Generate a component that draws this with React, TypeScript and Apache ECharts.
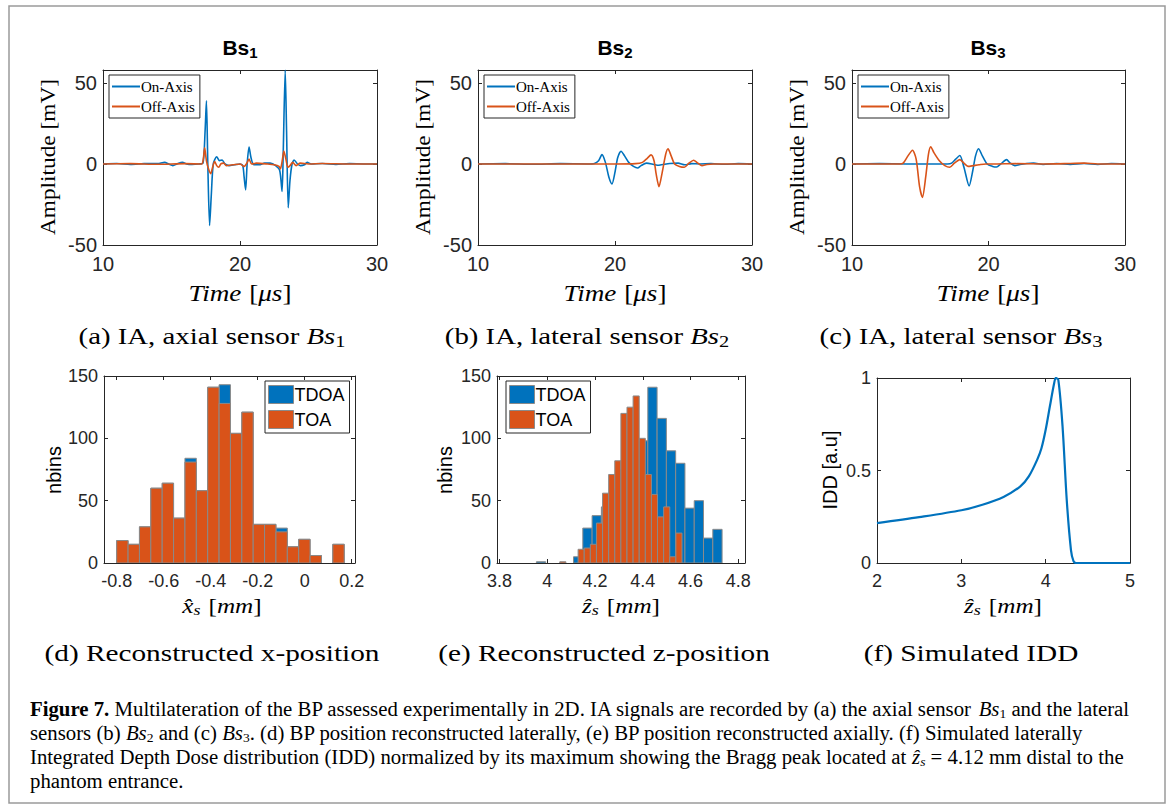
import React, { useEffect, useRef } from 'react';
import * as echarts from 'echarts';

const BLUE = '#0072BD';
const ORANGE = '#D95319';
const AX = '#262626';
const SANS = '"Liberation Sans", Arial, Helvetica, sans-serif';
const SERIF = '"Liberation Serif", "Times New Roman", serif';

// ---- (a) Bs1 signals [time µs, amplitude mV]
const bs1On: number[][] = [
  [10, 0], [11, 0.3], [12, -0.3], [13, 0.2], [14, 0.3], [14.5, 1], [14.8, 0], [15.1, -1], [15.4, 0], [15.8, 1], [16.1, 0], [16.5, -0.3],
  [17.0, 0], [17.3, 0.5], [17.45, 20], [17.55, 39], [17.65, 0], [17.78, -38], [17.9, -20], [18.05, 0], [18.3, 4.5], [18.5, 2], [18.7, 2.5],
  [18.9, 0], [19.2, -1], [19.6, -0.5], [20.0, 0], [20.2, -1], [20.3, -8], [20.41, -16], [20.52, 0], [20.66, 10.5], [20.8, 4], [21.0, -0.5],
  [21.4, -0.5], [21.8, 0.5], [22.2, 0.5], [22.6, -1], [22.9, -4], [23.07, -17], [23.15, 5], [23.3, 58], [23.4, 20], [23.52, -27], [23.65, -10],
  [23.8, 0], [23.95, 2.5], [24.2, 0], [24.4, -1], [24.7, -0.5], [24.9, 1], [25.2, 0], [26, 0.3], [27, -0.3], [28, 0.2], [29, 0], [30, 0],
];
const bs1Off: number[][] = [
  [10, 0], [12, 0.2], [14, -0.2], [16, 0.2], [17.2, 0], [17.32, 3], [17.42, 10], [17.55, 2], [17.7, -3], [17.86, -6], [18.0, -2], [18.15, 1.5],
  [18.3, -1], [18.45, -2], [18.6, 0], [18.8, 0.5], [19, -1], [19.5, -0.5], [20.0, 0], [20.3, -1.5], [20.5, 0.5], [20.66, 3], [20.85, 0],
  [21.2, 0.5], [22, 0], [22.5, -0.5], [22.85, -1.5], [22.95, -3], [23.1, 3], [23.2, 8], [23.35, 3], [23.5, -2], [23.65, -1], [23.85, 1],
  [24.1, -1], [24.4, 0.5], [25, 0], [26, 0.3], [28, 0], [30, 0],
];
// ---- (b) Bs2 signals
const bs2On: number[][] = [
  [10, 0], [12, 0.2], [14, -0.2], [16, 0.2], [18, 0], [18.5, 0.3], [18.8, 2], [19.05, 5.8], [19.3, 1], [19.55, -8], [19.78, -12.3], [20.0, -5],
  [20.2, 4], [20.44, 7.9], [20.7, 5], [21.0, 1], [21.35, -1.5], [21.65, -2.5], [21.9, -1], [22.3, 0.5], [22.7, 0], [23.1, -0.8], [23.5, -0.3],
  [24, 0.3], [24.6, 0.5], [25.1, -0.5], [25.6, 0.2], [26.2, 0], [27, 0.2], [28, -0.2], [29, 0.2], [30, 0],
];
const bs2Off: number[][] = [
  [10, 0], [16, 0], [20, 0], [21.5, 0.2], [22.0, 1], [22.35, 3.5], [22.63, 5.6], [22.85, 2], [23.0, -6], [23.21, -14], [23.45, -5], [23.7, 6],
  [23.87, 9.4], [24.1, 5], [24.35, 0], [24.7, -1.5], [25.06, -2], [25.4, 0.5], [25.74, 2.3], [26.05, 0.5], [26.35, -1], [26.7, -0.3], [27.2, 0], [30, 0],
];
// ---- (c) Bs3 signals
const bs3On: number[][] = [
  [10, 0], [12, 0.2], [14, 0], [16, 0], [17, 0], [17.3, 0.5], [17.6, 3], [17.9, 5.2], [18.2, -2], [18.58, -13.5], [18.85, -4], [19.05, 5],
  [19.27, 9.4], [19.55, 5], [19.9, 0], [20.3, -1.5], [20.59, -1.9], [20.9, 0], [21.32, 2.7], [21.6, 0.5], [21.93, -1], [22.3, -0.3], [22.8, 0.3],
  [23.3, 0.5], [24, -0.3], [25, 0.3], [26, -0.3], [27, 0.3], [28, -0.3], [29, 0.3], [30, 0],
];
const bs3Off: number[][] = [
  [10, 0], [12, 0], [13.5, 0], [13.75, 0.5], [14.1, 5], [14.43, 8.5], [14.7, 3], [14.95, -14], [15.16, -20.6], [15.4, -8], [15.6, 6],
  [15.77, 10.6], [16.0, 7], [16.4, 2], [16.8, -1], [17.16, -2], [17.5, 0.5], [17.9, 2.7], [18.2, 0.5], [18.5, -1.5], [18.9, -1], [19.3, -0.5],
  [19.8, 0], [20.5, 0], [22, 0.2], [24, 0], [26, 0.3], [27, 0.5], [28, 0], [30, 0],
];

// ---- (d) lateral histogram
const dStart = -0.8;
const dWidth = 0.0484;
const dTDOA = [18, 15, 29, 60, 64, 36, 84, 58, 141, 143, 104, 121, 31, 31, 28, 13, 19, 6, 0, 15];
const dTOA = [18, 15, 29, 60, 64, 36, 81, 58, 141, 128, 104, 121, 31, 31, 25, 13, 19, 6, 0, 15];

// ---- (e) axial histogram
const eTDOAStart = 3.954;
const eTDOAWidth = 0.0389;
const eTDOA = [1, 0, 0, 0, 5, 28, 38, 45, 60, 75, 90, 98, 141, 116, 90, 80, 44, 50, 20, 27];
const eTOAStart = 4.052;
const eTOAWidth = 0.0256;
const eTOA = [1, 0, 0, 11, 12, 15, 32, 56, 71, 82, 120, 125, 134, 100, 71, 55, 37, 45, 5, 24];

// ---- (f) IDD
const iddX = [2.0, 2.5, 3.0, 3.25, 3.5, 3.7, 3.8, 3.9, 3.95, 4.0, 4.05, 4.1, 4.12, 4.15, 4.2, 4.25, 4.3, 4.33, 4.36, 4.4, 5.0];
const iddY = [0.216, 0.248, 0.285, 0.315, 0.357, 0.414, 0.468, 0.559, 0.62, 0.72, 0.847, 0.97, 1.0, 0.99, 0.74, 0.34, 0.07, 0.01, 0, 0, 0];

const grids = [
  { left: 103, top: 70, width: 274, height: 175 },
  { left: 478, top: 70, width: 274, height: 175 },
  { left: 852, top: 70, width: 273, height: 175 },
  { left: 104, top: 376, width: 251, height: 187 },
  { left: 497, top: 376, width: 248, height: 187 },
  { left: 877, top: 378, width: 253, height: 185 },
];

const xRanges = [[10, 30], [10, 30], [10, 30], [-0.854, 0.214], [3.789, 4.828], [2, 5]];
const yRanges = [[-50, 58], [-50, 58], [-50, 58], [0, 150], [0, 150], [0, 1]];
const xSteps = [10, 10, 10, 0.2, 0.2, 1];
const ySteps = [50, 50, 50, 50, 50, 0.5];

function fmt(step: number) {
  return (v: number) => {
    const r = v / step;
    if (Math.abs(r - Math.round(r)) > 1e-6) return '';
    const n = Math.round(r) * step;
    return String(Number(n.toFixed(3)));
  };
}

function buildAxes() {
  const xAxis: any[] = [];
  const yAxis: any[] = [];
  grids.forEach((g, i) => {
    const fs = i < 3 ? 20 : 18;
    const common = (step: number) => ({
      type: 'value',
      gridIndex: i,
      splitNumber: 5,
      minInterval: step,
      maxInterval: step,
      axisLine: { show: true, onZero: false, lineStyle: { color: AX, width: 1 } },
      axisTick: { show: true, inside: true, length: 4, lineStyle: { color: AX } },
      splitLine: { show: false },
    });
    xAxis.push({
      ...common(xSteps[i]), position: 'bottom', min: xRanges[i][0], max: xRanges[i][1],
      axisLabel: { show: true, fontSize: fs, fontFamily: SANS, color: AX, margin: 9, formatter: fmt(xSteps[i]) },
    });
    xAxis.push({ ...common(xSteps[i]), position: 'top', min: xRanges[i][0], max: xRanges[i][1], axisLabel: { show: false } });
    yAxis.push({
      ...common(ySteps[i]), position: 'left', min: yRanges[i][0], max: yRanges[i][1],
      axisLabel: { show: true, fontSize: fs, fontFamily: SANS, color: AX, margin: 6, formatter: fmt(ySteps[i]) },
    });
    yAxis.push({ ...common(ySteps[i]), position: 'right', min: yRanges[i][0], max: yRanges[i][1], axisLabel: { show: false } });
  });
  return { xAxis, yAxis };
}

function lineSeries(name: string, data: number[][], color: string, gi: number, width = 1.6) {
  return {
    type: 'line', name, data, xAxisIndex: gi * 2, yAxisIndex: gi * 2, symbol: 'none', smooth: 0.25,
    lineStyle: { color, width }, itemStyle: { color }, clip: true, z: name === 'Off-Axis' ? 3 : 2,
  };
}

function histSeries(name: string, start: number, width: number, counts: number[], color: string, gi: number, z: number) {
  const data = counts.map((c, k) => [start + k * width, start + (k + 1) * width, c]);
  return {
    type: 'custom', name, xAxisIndex: gi * 2, yAxisIndex: gi * 2, z, clip: true,
    itemStyle: { color },
    encode: { x: [0, 1], y: 2 },
    data,
    renderItem: (_p: any, api: any) => {
      const h = api.value(2);
      if (!h) return null;
      const p0 = api.coord([api.value(0), h]);
      const p1 = api.coord([api.value(1), 0]);
      return {
        type: 'rect',
        shape: { x: p0[0], y: p0[1], width: p1[0] - p0[0], height: p1[1] - p0[1] },
        style: { fill: color, stroke: '#8a8a8a', lineWidth: 1 },
      };
    },
  };
}

function txt(x: number, y: number, text: string, style: any, extra: any = {}) {
  return { type: 'text', x, y, silent: true, ...extra, style: { text, align: 'center', verticalAlign: 'middle', fill: '#000', ...style } };
}

const subRich = (fam: string, size: number) => ({
  n: { fontFamily: fam, fontSize: size, fill: '#000' },
  i: { fontFamily: fam, fontSize: size, fontStyle: 'italic', fill: '#000' },
  s: { fontFamily: fam, fontSize: Math.round(size * 0.7), fill: '#000', padding: [Math.round(size * 0.45), 0, 0, 0] },
  si: { fontFamily: fam, fontSize: Math.round(size * 0.7), fill: '#000', padding: [Math.round(size * 0.45), 0, 0, 0], fontStyle: 'italic' },
  b: { fontFamily: fam, fontSize: size, fontWeight: 'bold', fill: '#000' },
});

function buildGraphics() {
  const els: any[] = [];
  els.push({ type: 'rect', shape: { x: 9, y: 6, width: 1156, height: 797 }, style: { fill: 'none', stroke: '#9a9a9a', lineWidth: 1.5 }, silent: true });
  // titles
  const titleRich = {
    t: { fontFamily: SANS, fontSize: 21, fontWeight: 'bold', fill: '#000' },
    s: { fontFamily: SANS, fontSize: 15, fontWeight: 'bold', fill: '#000', padding: [10, 0, 0, 0] },
  };
  [['1', 240], ['2', 615], ['3', 988]].forEach(([n, x]) => {
    els.push(txt(x as number, 47, `{t|Bs}{s|${n}}`, { rich: titleRich }));
  });
  // top row axis labels
  const timeRich = subRich(SERIF, 23);
  [240, 615, 988].forEach((x) => {
    els.push(txt(x, 293, '{i|Time}  {n|[}{i|μs}{n|]}', { rich: timeRich }, { scaleX: 1.18 }));
  });
  [48, 423, 797].forEach((x) => {
    els.push(txt(x, 157, 'Amplitude [mV]', { fontFamily: SERIF, fontSize: 22 }, { rotation: Math.PI / 2, scaleX: 1.06 }));
  });
  // subcaptions
  const capRich = subRich(SERIF, 24);
  els.push(txt(212, 336, '{n|(a) IA, axial sensor }{i|Bs}{s|1}', { rich: capRich }, { scaleX: 1.2 }));
  els.push(txt(587, 336, '{n|(b) IA, lateral sensor }{i|Bs}{s|2}', { rich: capRich }, { scaleX: 1.2 }));
  els.push(txt(961, 336, '{n|(c) IA, lateral sensor }{i|Bs}{s|3}', { rich: capRich }, { scaleX: 1.2 }));
  els.push(txt(212, 653, '(d) Reconstructed x-position', { fontFamily: SERIF, fontSize: 24 }, { scaleX: 1.22 }));
  els.push(txt(604, 653, '(e) Reconstructed z-position', { fontFamily: SERIF, fontSize: 24 }, { scaleX: 1.22 }));
  els.push(txt(971, 653, '(f) Simulated IDD', { fontFamily: SERIF, fontSize: 24 }, { scaleX: 1.22 }));
  // bottom row axis labels
  const hatRich = subRich(SERIF, 21);
  els.push(txt(222, 606, '{i|x\u0302}{si|s}  {n|[}{i|mm}{n|]}', { rich: hatRich }, { scaleX: 1.2 }));
  els.push(txt(621, 606, '{i|z\u0302}{si|s}  {n|[}{i|mm}{n|]}', { rich: hatRich }, { scaleX: 1.2 }));
  els.push(txt(1003, 606, '{i|z\u0302}{si|s}  {n|[}{i|mm}{n|]}', { rich: hatRich }, { scaleX: 1.2 }));
  els.push(txt(54, 470, 'nbins', { fontFamily: SANS, fontSize: 20 }, { rotation: Math.PI / 2 }));
  els.push(txt(445, 470, 'nbins', { fontFamily: SANS, fontSize: 20 }, { rotation: Math.PI / 2 }));
  els.push(txt(830, 470, 'IDD [a.u]', { fontFamily: SANS, fontSize: 20 }, { rotation: Math.PI / 2 }));
  // caption
  const FS = 20;
  const cr = {
    n: { fontFamily: SERIF, fontSize: FS, fill: '#000' },
    b: { fontFamily: SERIF, fontSize: FS, fontWeight: 'bold', fill: '#000' },
    i: { fontFamily: SERIF, fontSize: FS, fontStyle: 'italic', fill: '#000' },
    s: { fontFamily: SERIF, fontSize: 13, fill: '#000', padding: [9, 0, 0, 0] },
    si: { fontFamily: SERIF, fontSize: 13, fontStyle: 'italic', fill: '#000', padding: [9, 0, 0, 0] },
  };
  const lines = [
    '{b|Figure 7.}{n| Multilateration of the BP assessed experimentally in 2D. IA signals are recorded by (a) the axial sensor }{i|Bs}{s|1}{n| and the lateral}',
    '{n|sensors (b) }{i|Bs}{s|2}{n| and (c) }{i|Bs}{s|3}{n|. (d) BP position reconstructed laterally, (e) BP position reconstructed axially. (f) Simulated laterally}',
    '{n|Integrated Depth Dose distribution (IDD) normalized by its maximum showing the Bragg peak located at }{i|z\u0302}{si|s}{n| = 4.12 mm distal to the}',
    '{n|phantom entrance.}',
  ];
  lines.forEach((l, k) => {
    els.push({ type: 'text', x: 30, y: 709 + k * 24, scaleX: 1.04, silent: true, style: { text: l, rich: cr, align: 'left', verticalAlign: 'middle' } });
  });
  return els;
}

function buildOption() {
  const { xAxis, yAxis } = buildAxes();
  const series: any[] = [
    lineSeries('On-Axis', bs1On, BLUE, 0), lineSeries('Off-Axis', bs1Off, ORANGE, 0),
    lineSeries('On-Axis', bs2On, BLUE, 1), lineSeries('Off-Axis', bs2Off, ORANGE, 1),
    lineSeries('On-Axis', bs3On, BLUE, 2), lineSeries('Off-Axis', bs3Off, ORANGE, 2),
    histSeries('TDOA', dStart, dWidth, dTDOA, BLUE, 3, 2), histSeries('TOA', dStart, dWidth, dTOA, ORANGE, 3, 3),
    histSeries('TDOA', eTDOAStart, eTDOAWidth, eTDOA, BLUE, 4, 2), histSeries('TOA', eTOAStart, eTOAWidth, eTOA, ORANGE, 4, 3),
    {
      type: 'line', name: 'IDD', data: iddX.map((x, k) => [x, iddY[k]]), xAxisIndex: 10, yAxisIndex: 10, symbol: 'none', smooth: 0.3,
      lineStyle: { color: BLUE, width: 2.2 }, clip: true,
    },
  ];
  const lineLegend = (left: number) => ({
    left, top: 75, orient: 'vertical', data: ['On-Axis', 'Off-Axis'], icon: 'rect', itemWidth: 28, itemHeight: 2, itemGap: 5,
    padding: [4, 5, 4, 3], borderColor: AX, borderWidth: 1, backgroundColor: '#fff', selectedMode: false,
    textStyle: { fontFamily: SERIF, fontSize: 15, color: '#000', padding: [0, 0, 0, -4] },
  });
  const histLegend = (left: number) => ({
    left, top: 381, orient: 'vertical', data: ['TDOA', 'TOA'], icon: 'rect', itemWidth: 25, itemHeight: 18, itemGap: 6,
    padding: [4, 5, 4, 3], borderColor: AX, borderWidth: 1, backgroundColor: '#fff', selectedMode: false,
    itemStyle: { borderColor: '#8a8a8a', borderWidth: 1 },
    textStyle: { fontFamily: SANS, fontSize: 18, color: '#000', padding: [0, 0, 0, -4] },
  });
  return {
    animation: false,
    backgroundColor: '#fff',
    grid: grids.map((g) => ({ ...g, containLabel: false, show: false })),
    xAxis, yAxis,
    legend: [lineLegend(109), lineLegend(484), lineLegend(858), histLegend(265), histLegend(506)],
    series,
    graphic: { elements: buildGraphics() },
  };
}

export default function App() {
  const ref = useRef<HTMLDivElement>(null);
  useEffect(() => {
    const chart = echarts.init(ref.current!, null, { renderer: 'svg' });
    chart.setOption(buildOption() as any);
    return () => chart.dispose();
  }, []);
  return <div ref={ref} style={{ position: 'absolute', left: 0, top: 0, width: 1171, height: 809, background: '#fff' }} />;
}
